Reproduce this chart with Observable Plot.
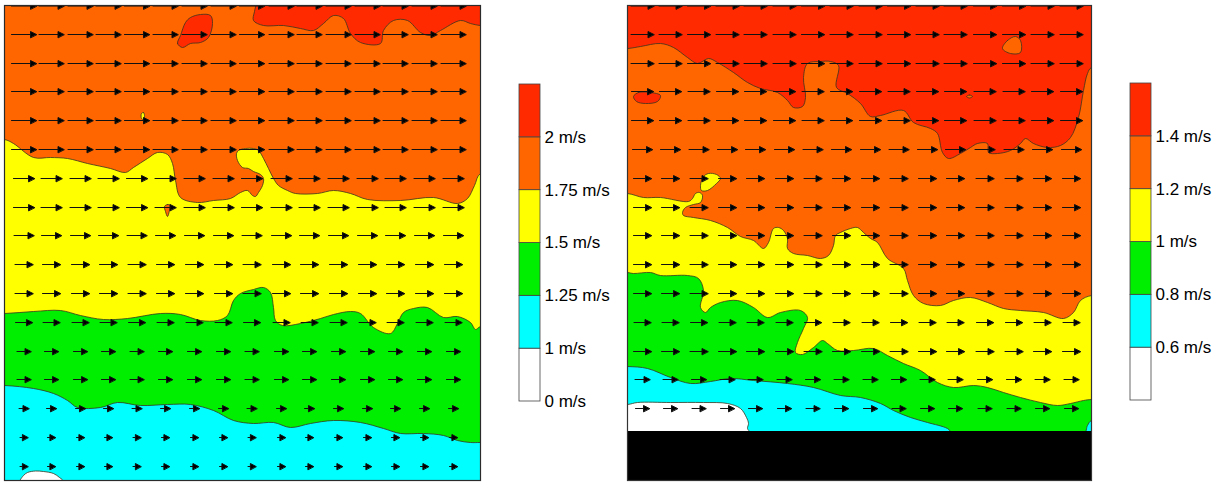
<!DOCTYPE html>
<html><head><meta charset="utf-8">
<script src="https://cdn.jsdelivr.net/npm/d3@7"></script>
<script src="https://cdn.jsdelivr.net/npm/@observablehq/plot@0.6"></script>
<style>
html,body{margin:0;padding:0;background:#fff}
body{width:1227px;height:482px;position:relative;overflow:hidden;font-family:"Liberation Sans",Arial,sans-serif}
.p{position:absolute;top:0}
svg{display:block}
</style></head><body>
<div id="panelL" class="p" style="left:0;width:485px"></div>
<div id="legendL" class="p" style="left:500px;width:120px"></div>
<div id="panelR" class="p" style="left:620px;width:480px"></div>
<div id="legendR" class="p" style="left:1110px;width:117px"></div>
<script>
// ---------- colours of the contour bands (lowest to highest) ----------
const bandColors = ["#ffffff", "#00ffff", "#00ee00", "#ffff00", "#ff6600", "#ff2a00"];
const lineColor = "#3a3320";

// ---------- legend labels (at lower edge of each band) ----------
const legendLabelsL = ["0 m/s", "1 m/s", "1.25 m/s", "1.5 m/s", "1.75 m/s", "2 m/s"];
const legendLabelsR = ["", "0.6 m/s", "0.8 m/s", "1 m/s", "1.2 m/s", "1.4 m/s"];

// ---------- LEFT panel: extent (x across, y depth from top) ----------
const extentL = {w: 476, h: 475};
// contour boundaries [x, depth]
const cyanGreenL = [[0,380],[29,383],[49,388],[63,395],[73,402],[96,402],[113,397],[136,400],[163,399],[186,399],[209,405],[229,415],[249,418],[269,417],[286,422],[306,418],[329,415],[356,417],[379,423],[396,428],[419,428],[439,430],[453,435],[466,437],[476,437]];
const greenYellowL = [[0,308],[29,306],[56,305],[76,310],[99,314],[123,313],[156,308],[176,309],[196,315],[213,315],[223,310],[229,295],[236,288],[249,284],[259,282],[266,287],[269,302],[271,315],[278,320],[296,318],[316,313],[329,309],[346,306],[356,308],[369,322],[386,328],[393,318],[399,307],[409,303],[423,302],[439,312],[453,311],[466,317],[471,324],[476,321]];
const yellowOrangeL = [[0,134],[9,138],[29,152],[46,152],[63,153],[83,158],[106,163],[121,167],[129,162],[143,153],[153,147],[163,149],[168,158],[171,175],[176,192],[193,197],[209,195],[226,193],[236,187],[243,185],[248,190],[251,191],[254,187],[258,180],[259,173],[256,169],[249,166],[244,163],[238,162],[233,155],[232,148],[234,145],[241,143],[249,143],[254,145],[259,153],[264,163],[269,173],[274,180],[283,185],[291,188],[313,188],[329,185],[346,188],[363,194],[396,195],[429,192],[453,198],[463,193],[470,180],[476,168]];
const orangeRedL = [[254,-10],[250,6],[249,15],[259,20],[279,20],[296,23],[309,25],[319,18],[329,10],[339,13],[346,28],[356,37],[376,38],[379,25],[389,15],[403,15],[416,27],[426,30],[436,25],[456,15],[466,18],[476,20]];
const redIslandL = [[178,42],[173,38],[176,30],[181,17],[186,12],[196,9],[206,10],[208,18],[204,32],[196,37],[186,38]];
const yellowIslandL = [[137,108],[139,107],[140,110],[139,114],[137,113]];
const orangeBlobL = [[160,201],[163,199],[166,200],[165,205],[163,211],[161,206]];
const whitePatchL = [[14,477],[19,470],[23,467],[31,465.5],[39,466],[49,468],[55,472],[60,477]];
// vector grid
const colsL = [19.5, 47, 76, 104, 132.5, 161, 190, 219, 247.5, 277, 305, 334, 363, 391, 420, 449];
const rowsL = [0.5, 29, 58, 86, 115, 144, 173, 202, 230, 259, 288, 317, 346, 374, 403, 432, 461];
const speedsL = [1.95, 1.95, 1.95, 1.95, 1.95, 1.95, 1.73, 1.73, 1.67, 1.56, 1.56, 1.5, 1.34, 1.34, 1.11, 1.0, 1.0];

// ---------- RIGHT panel ----------
const extentR = {w: 464, h: 475};
const bedTopR = 426;
const whitePatchR = [[0,399],[10,397],[43,397],[76,397],[100,398],[113,403],[119,412],[121,418],[120,423],[123,428]];
const cyanGreenR = [[0,361],[20,363],[43,372],[63,378],[83,376],[103,373],[126,375],[160,378],[186,382],[213,390],[233,392],[253,398],[266,405],[283,412],[300,417],[320,423],[326,428],[456,429],[460,420],[464,415]];
const greenYellowR = [[0,267],[6,268],[23,267],[33,270],[60,270],[71,273],[76,285],[73,302],[78,307],[83,302],[93,297],[110,295],[126,302],[140,312],[153,307],[173,305],[180,312],[176,323],[170,337],[168,347],[175,349],[186,342],[195,335],[200,338],[210,345],[226,345],[246,343],[260,350],[276,358],[293,365],[310,377],[326,382],[346,380],[360,382],[376,387],[393,392],[413,397],[430,400],[443,398],[456,395],[464,394]];
const yellowOrangeR = [[0,188],[16,192],[33,192],[61,196],[65,193],[68,188],[72,187],[75,190],[73,197],[66,199],[58,202],[55,207],[56,210],[66,212],[83,215],[100,222],[113,231],[126,235],[136,243],[141,237],[146,223],[151,222],[156,225],[160,233],[160,243],[166,248],[180,250],[193,253],[201,250],[206,240],[208,230],[213,227],[223,223],[230,222],[236,227],[243,233],[250,237],[260,253],[276,263],[280,275],[286,290],[296,298],[313,300],[326,295],[343,292],[360,297],[376,303],[393,305],[416,307],[436,313],[446,307],[453,295],[464,290]];
const orangeRedR = [[0,43],[13,41],[33,38],[46,42],[60,52],[70,58],[81,53],[90,57],[106,67],[120,77],[133,83],[150,87],[160,95],[166,102],[175,101],[178,92],[176,72],[180,58],[193,56],[203,56],[211,60],[209,82],[220,88],[233,98],[243,111],[253,110],[276,105],[286,117],[303,123],[310,128],[315,147],[321,153],[333,148],[343,142],[350,138],[360,138],[361,147],[370,148],[383,145],[393,138],[398,133],[406,138],[420,142],[433,140],[443,132],[451,112],[456,85],[460,68],[464,62]];
const redIslandR = [[6,91],[11,87],[23,87],[33,90],[30,96],[18,98],[9,96]];
const orangeIslandR = [[375,43],[380,35],[388,31],[393,35],[393,47],[383,48]];
const orangeDotR = [[339,91],[342,89.5],[345,91],[342,92.5]];
const yellowIslandR = [[73,180],[76,171],[81,168],[89,169],[93,173],[89,178],[80,185],[74,185]];
const colsR = [15, 43, 71.5, 100, 128, 157, 185.5, 214, 243, 271.5, 300, 328, 357.5, 386.5, 415, 444];
const rowsR = [0.5, 29, 58, 86, 115, 144, 173, 202, 230, 259, 288, 317, 346, 374, 403];
const speedsR = [1.5, 1.5, 1.5, 1.41, 1.41, 1.23, 1.05, 1.05, 1.05, 1.05, 1.05, 0.96, 1.05, 0.78, 0.69];

// ---------- helpers ----------
const FONT = "'Liberation Sans', Arial, Helvetica, sans-serif";
function above(b, w) { // region between boundary and top edge
  const f = b[0], l = b[b.length - 1];
  return [[-30, f[1]], ...b, [w + 30, l[1]], [w + 30, -30], [-30, -30]];
}
function belowLeft(b, h) { // region between boundary and bottom/left edges
  const f = b[0], l = b[b.length - 1];
  return [[-30, f[1]], ...b, [l[0], h + 30], [-30, h + 30]];
}
function poly(pts, fill, closed) {
  return Plot.line(pts, {x: d => d[0], y: d => d[1], fill, stroke: lineColor, strokeWidth: 0.8,
    curve: closed ? "catmull-rom-closed" : "catmull-rom", clip: true});
}
const arrowShape = {
  draw(ctx, l) {
    const h = Math.min(6, l * 0.7), w = 3;
    ctx.moveTo(0, 0); ctx.lineTo(0, -l + h);
    ctx.moveTo(0, -l); ctx.lineTo(-w, -l + h); ctx.lineTo(w, -l + h); ctx.closePath();
  }
};
function arrows(cols, rows, speeds) {
  const data = rows.flatMap((y, j) => cols.map(x => ({x, y, speed: speeds[j]})));
  return Plot.vector(data, {x: "x", y: "y", length: "speed", rotate: 90, anchor: "middle",
    shape: arrowShape, stroke: "#111", fill: "#000", strokeWidth: 1, clip: true});
}

// ---------- LEFT panel ----------
const [cW, cC, cG, cY, cO, cR] = bandColors;
document.getElementById("panelL").append(Plot.plot({
  width: 485, height: 482, marginLeft: 4, marginRight: 5, marginTop: 5, marginBottom: 2,
  x: {domain: [0, extentL.w], axis: null},
  y: {domain: [0, extentL.h], reverse: true, axis: null},
  length: {domain: [1.0, 1.95], range: [8, 25]},
  style: {fontFamily: FONT, background: "#fff"},
  marks: [
    Plot.frame({fill: cC, stroke: "none"}),
    poly(belowLeft(whitePatchL, extentL.h).slice(1), cW),
    poly(above(cyanGreenL, extentL.w), cG),
    poly(above(greenYellowL, extentL.w), cY),
    poly(above(yellowOrangeL, extentL.w), cO),
    poly([...orangeRedL, [extentL.w + 30, 20], [extentL.w + 30, -30], [254, -30]], cR),
    poly(redIslandL, cR, true),
    poly(yellowIslandL, cY, true),
    poly(orangeBlobL, cO, true),
    arrows(colsL, rowsL, speedsL),
    Plot.frame({stroke: "#2b2b2b", strokeWidth: 1.2})
  ]
}));

// ---------- RIGHT panel ----------
document.getElementById("panelR").append(Plot.plot({
  width: 480, height: 482, marginLeft: 7, marginRight: 9, marginTop: 5, marginBottom: 2,
  x: {domain: [0, extentR.w], axis: null},
  y: {domain: [0, extentR.h], reverse: true, axis: null},
  length: {domain: [0.6, 1.5], range: [13, 23]},
  style: {fontFamily: FONT, background: "#fff"},
  marks: [
    Plot.frame({fill: cC, stroke: "none"}),
    poly(belowLeft(whitePatchR, extentR.h), cW),
    poly(above(cyanGreenR, extentR.w), cG),
    poly(above(greenYellowR, extentR.w), cY),
    poly(above(yellowOrangeR, extentR.w), cO),
    poly(above(orangeRedR, extentR.w), cR),
    poly(redIslandR, cR, true),
    poly(orangeIslandR, cO, true),
    poly(orangeDotR, cO, true),
    poly(yellowIslandR, cY, true),
    Plot.rect([{top: bedTopR}], {x1: 0, x2: extentR.w, y1: "top", y2: extentR.h, fill: "#000", clip: true}),
    arrows(colsR, rowsR, speedsR),
    Plot.frame({stroke: "#333", strokeWidth: 1.2})
  ]
}));

// ---------- legends ----------
function legend(el, labels, ml, mr, mt, mb, w) {
  const bands = bandColors.map((c, i) => ({i, c, label: labels[i]}));
  document.getElementById(el).append(Plot.plot({
    width: w, height: 482, marginLeft: ml, marginRight: mr, marginTop: mt, marginBottom: mb,
    x: {domain: [0, 1], axis: null},
    y: {domain: [0, bandColors.length], axis: null},
    style: {fontFamily: FONT, background: "#fff", overflow: "visible"},
    marks: [
      Plot.rect(bands, {x1: 0, x2: 1, y1: "i", y2: d => d.i + 1, fill: d => d.c, stroke: "#444", strokeWidth: 0.8}),
      Plot.text(bands.filter(d => d.label), {x: 1, y: "i", text: "label", textAnchor: "start", dx: 4,
        fontSize: 17, fill: "#000", fontFamily: FONT})
    ]
  }));
}
legend("legendL", legendLabelsL, 19, 80, 84, 81, 120);
legend("legendR", legendLabelsR, 20, 76, 83, 82, 117);
</script>
</body></html>
